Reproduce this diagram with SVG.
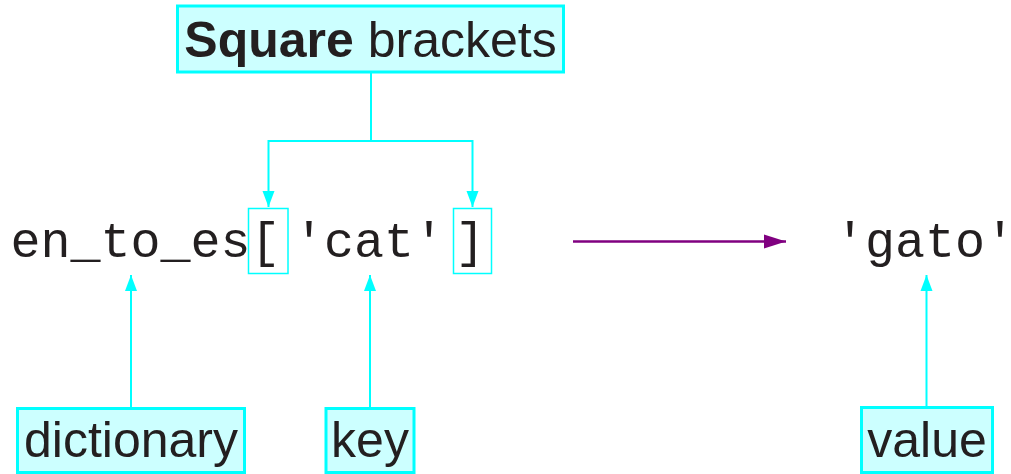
<svg xmlns="http://www.w3.org/2000/svg" width="1011" height="474" viewBox="0 0 1011 474">
<style>
.lbl{fill:#ccffff;stroke:#00ffff;stroke-width:3}
.br{fill:none;stroke:#00ffff;stroke-width:1.5}
.sans{font-family:"Liberation Sans",Arial,sans-serif;font-size:50px;fill:#231f20}
.mono{font-family:"Liberation Mono","Courier New",monospace;font-size:50px;fill:#231f20}
.c{fill:none;stroke:#00ffff;stroke-width:2}
.p{fill:none;stroke:#800080;stroke-width:2.5}
</style>
<defs>
<marker id="ac" markerUnits="userSpaceOnUse" markerWidth="16" markerHeight="14" refX="16" refY="7" orient="auto">
<path d="M0,1 L16,7 L0,13 Z" fill="#00ffff"/>
</marker>
<marker id="ap" markerUnits="userSpaceOnUse" markerWidth="22" markerHeight="16" refX="22" refY="8" orient="auto">
<path d="M0,1 L22,8 L0,15 Z" fill="#800080"/>
</marker>
</defs>
<g id="connectors">
<path class="c" d="M371,72 V141 H268.5 V207" marker-end="url(#ac)"/>
<path class="c" d="M371,141 H472.5 V207" marker-end="url(#ac)"/>
<path class="c" d="M131,408 V275" marker-end="url(#ac)"/>
<path class="c" d="M370,408 V275" marker-end="url(#ac)"/>
<path class="c" d="M926.5,406 V275" marker-end="url(#ac)"/>
<path class="p" d="M573,241.5 H786" marker-end="url(#ap)"/>
</g>
<g id="square-brackets">
<rect class="lbl" x="177.5" y="6" width="386" height="66"/>
<text class="sans" x="370.5" y="57" text-anchor="middle"><tspan font-weight="bold">Square</tspan> brackets</text>
</g>
<g id="expression">
<rect class="br" x="248.5" y="208.5" width="39.5" height="65"/>
<rect class="br" x="453.5" y="208.5" width="38" height="65"/>
<text class="mono" x="10.4" y="256.7">en_to_es[</text>
<text class="mono" x="294" y="256.7">'cat'</text>
<text class="mono" x="455" y="256.7">]</text>
</g>
<g id="result">
<text class="mono" x="835" y="257">'gato<tspan style="letter-spacing:-10px">'</tspan></text>
</g>
<g id="dictionary">
<rect class="lbl" x="17.5" y="408.5" width="227" height="64"/>
<text class="sans" x="131" y="457" text-anchor="middle">dictionary</text>
</g>
<g id="key">
<rect class="lbl" x="326" y="408.5" width="88" height="64"/>
<text class="sans" x="370" y="457" text-anchor="middle">key</text>
</g>
<g id="value">
<rect class="lbl" x="861.5" y="407.5" width="131" height="65"/>
<text class="sans" x="927" y="457" text-anchor="middle">value</text>
</g>
</svg>
